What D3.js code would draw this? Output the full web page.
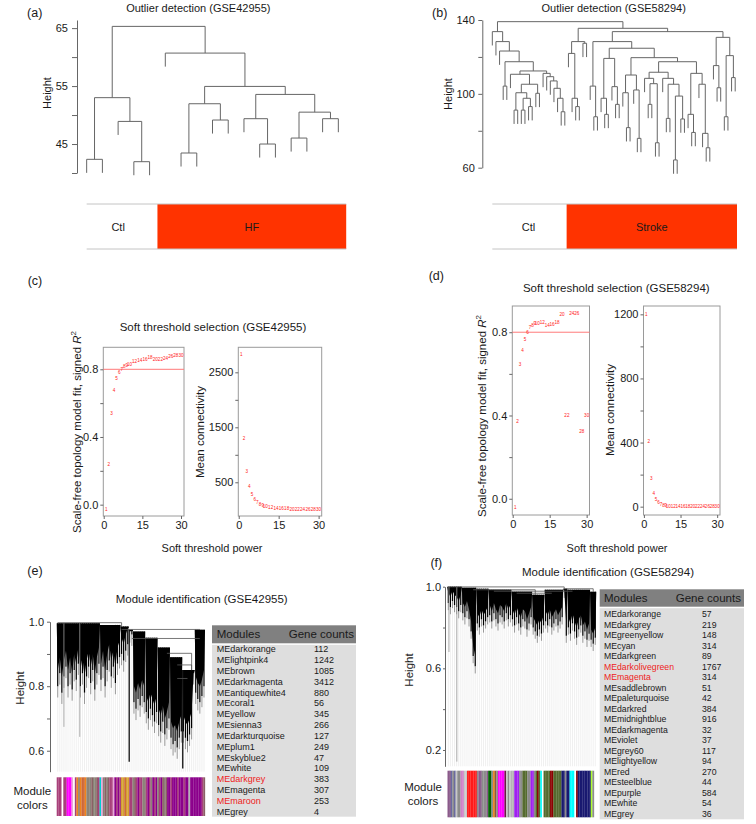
<!DOCTYPE html>
<html>
<head>
<meta charset="utf-8">
<script src="https://cdn.jsdelivr.net/npm/d3@7"></script>
<style>
  body { margin: 0; background: #fff; }
  svg { display: block; }
  .axis path, .axis line { stroke: #666; }
  .axis text { fill: #1a1a1a; font-size: 11px; font-family: "Liberation Sans", Arial, sans-serif; }
</style>
</head>
<body>
<div id="container"></div>
<script>
/* CONSTANTS AND GLOBALS */
const width = 756, height = 824;
const font = '"Liberation Sans", Arial, Helvetica, sans-serif';
const ink = "#1a1a1a";

/* DATA */
// (a) sample tree GSE42955: [merge height, left, right], 0 = one sample
const treeA = [65.3,
  [53.0, [42.36, 0, 0], [48.9, 0, [41.95, 0, 0]]],
  [60.69, 0, [54.94,
    [51.95, [43.45, 0, 0], [49.14, 0, 0]],
    [53.56, [49.37, 0, [45.0, 0, 0]], [50.5, [46.03, 0, 0], [49.37, 0, 0]]]]]];
const traitA = [["Ctl", 5], ["HF", 12]];
const ticksA = [40, 45, 50, 55, 60, 65];
const labelsA = [45, 55, 65];

// (b) sample tree GSE58294
const ctlB = [133.7, 0, [128.3, 0, [123.2, 0, [117.4, [104.2, 0, 0], [112.4,
  [110.6, 0, [105.2, [100.6, [91.2, 0, 0], [97.6, [91.2, 0, 0], [93.1, 0, 0]]], [100.3, 0, 0]]],
  [111.1, 0, [109.3, 0, [107.0, 0, [103.0, 0, [97.6, 0, [90.3, 0, 0]]]]]]]]]]];
const strokeB1 = [128.3, [121.9, 0, [97.6, 0, [93.1, 0, 0]]], [127.4, 0, 0]];
const strokeB2 = [128.3, [104.2, 0, [87.6, 0, 0]], [124.7,
  [119.2, [97.6, 0, [88.9, 0, 0]], [103.9, 0, [94.3, 0, 0]]],
  [119.6,
    [110.2, [100.6, 0, [81.7, 0, 0]], [102.1, 0, [75.9, 0, 0]]],
    [117.4,
      [111.7, [108.4, 0, [105.5, [94.3, 0, 0], [73.5, 0, 0]]],
              [108.4, 0, [105.2, [86.7, 0, 0], [98.8, [64.2, 0, 0], [86.4, 0, 0]]]]],
      [111.1, [88.9, 0, [79.1, 0, 0]], [105.2, 0, [78.6, 0, [70.8, 0, 0]]]]]]]];
const strokeB3 = [130.6, [115.3, 0, [103.3, 0, 0]], [120.7, [87.6, 0, 0], [108.8, 0, 0]]];
const treeB = [139.1, ctlB, [135.5, strokeB1, [133.7, strokeB2, strokeB3]]];
const traitB = [["Ctl", 21], ["Stroke", 47]];
const ticksB = [60, 80, 100, 120, 140];
const labelsB = [60, 100, 140];

// (c), (d) soft threshold
const powers = [1, 2, 3, 4, 5, 6, 7, 8, 9, 10, 12, 14, 16, 18, 20, 22, 24, 26, 28, 30];
const fitC = [-0.03, 0.236, 0.54, 0.676, 0.747, 0.784, 0.80, 0.815, 0.825, 0.831, 0.845, 0.853, 0.859, 0.871, 0.859, 0.857, 0.866, 0.874, 0.88, 0.884];
const connC = [2830, 1290, 700, 430, 280, 190, 136, 100, 76, 60, 40, 28, 20, 16, 12, 10, 8, 7, 6, 5];
const fitD = [-0.041, 0.372, 0.646, 0.712, 0.766, 0.801, 0.821, 0.830, 0.840, 0.840, 0.848, 0.830, 0.838, 0.849, 0.883, 0.398, 0.888, 0.888, 0.322, 0.398];
const connD = [1200, 406, 173, 84, 46, 25, 14, 8, 5, 3.5, 2, 1.2, 0.8, 0.5, 0.4, 0.3, 0.2, 0.15, 0.1, 0.1];
const cutR2 = 0.8;
const xTicksSoft = [0, 15, 30];
const fitTicks = [0, 0.2, 0.4, 0.6, 0.8], fitLabels = [0, 0.4, 0.8];
const connTicksC = [500, 1000, 1500, 2000, 2500], connLabelsC = [500, 1500, 2500];
const connTicksD = [0, 200, 400, 600, 800, 1000, 1200], connLabelsD = [0, 400, 800, 1200];

// (e), (f) gene trees, read as columns: [first col, last col, top height], lower edges
const clustersE = [[0, 20, 0.995], [21, 30, 0.99], [31, 34, 0.985], [35, 36, 0.975], [37, 42, 0.97],
  [43, 48, 0.95], [49, 54, 0.92], [55, 60, 0.89], [61, 66, 0.85], [67, 71, 0.975]];
const bottomsE = [0.80, 0.84, 0.78, 0.83, 0.86, 0.80, 0.84, 0.79, 0.85, 0.82, 0.87, 0.80, 0.84, 0.78, 0.83, 0.86,
  0.81, 0.85, 0.79, 0.84, 0.87, 0.82, 0.86, 0.80, 0.85, 0.88, 0.83, 0.86, 0.81, 0.87, 0.89,
  0.90, 0.88, 0.91, 0.93, 0.97, 0.96,
  0.75, 0.73, 0.76, 0.74, 0.77, 0.75, 0.72, 0.70, 0.73, 0.71, 0.69, 0.72,
  0.68, 0.66, 0.69, 0.65, 0.67, 0.70, 0.64, 0.62, 0.63, 0.61, 0.64, 0.66,
  0.66, 0.64, 0.63, 0.65, 0.67, 0.84, 0.78, 0.76, 0.75, 0.77, 0.80];
const mergesE = [[0, 31, 0.997], [31, 69, 0.976], [36, 69, 0.948], [53, 65, 0.902], [58, 65, 0.866], [58, 63, 0.824]];
const spikesE = [[35.2, 0.566], [61.2, 0.545]];
const threadsE = [[3.5, 0.674], [11.2, 0.643]];
const colorsE = "mmmwmmPPPpwmoaoccoaaalaalmtpalalmmpDmDmyycyymmalmDmmaamDmaDmDamDlalDDmDDDmDDDmDDgDDDDDDDml";

const clustersF = [[0, 6, 1.0], [7, 13, 0.995], [14, 19, 0.99], [20, 30, 0.985], [31, 40, 0.975],
  [41, 46, 0.96], [47, 55, 0.985], [56, 57, 0.99], [58, 68, 0.985], [69, 71, 0.975]];
const bottomsF = [0.92, 0.90, 0.93, 0.91, 0.90, 0.88, 0.91, 0.87, 0.85, 0.88, 0.84, 0.78, 0.66, 0.61,
  0.82, 0.80, 0.84, 0.81, 0.83, 0.85,
  0.86, 0.83, 0.87, 0.84, 0.82, 0.86, 0.85, 0.83, 0.87, 0.84, 0.86,
  0.84, 0.81, 0.85, 0.82, 0.80, 0.84, 0.83, 0.79, 0.82, 0.85,
  0.80, 0.78, 0.76, 0.79, 0.77, 0.81,
  0.83, 0.81, 0.84, 0.80, 0.82, 0.84, 0.81, 0.83, 0.85,
  0.98, 0.76,
  0.80, 0.77, 0.82, 0.78, 0.75, 0.79, 0.81, 0.76, 0.78, 0.74, 0.77,
  0.74, 0.72, 0.75];
const mergesF = [[0, 56, 0.999], [56, 70, 0.99], [12, 42, 0.985], [22, 60, 0.978], [33, 50, 0.968]];
const spikesF = [];
const threadsF = [[4.6, 0.143], [0.8, 0.68]];
const colorsF = "uuvhvLhhVVLLrrrrrrhuuhhhuGGhobhPPPPdLhLggUUUhhOOOhhUUhOROCwOOOORROOOOONNhNNCCCwRNNNNNNNNYh";

const moduleColorKey = {
  m: "#a8407a", D: "#8b008b", P: "#ff00ff", p: "#e8a8d8", w: "#ffffff", o: "#f0841c",
  a: "#8b8378", l: "#8b5f65", c: "#cd6839", t: "#00ced1", y: "#d4a030", g: "#b4b4b4",
  u: "#8a5a8a", v: "#6a6aa0", h: "#8c8c8c", L: "#c8c8c8", V: "#d080c8", r: "#ff1a1a",
  G: "#006400", b: "#8b5a3c", d: "#6a1a40", U: "#a020f0", O: "#556b2f", R: "#8b0000",
  C: "#00ffff", N: "#191970", Y: "#adff2f"
};

const modulesE = ["MEdarkorange", "MElightpink4", "MEbrown", "MEdarkmagenta", "MEantiquewhite4", "MEcoral1",
  "MEyellow", "MEsienna3", "MEdarkturquoise", "MEplum1", "MEskyblue2", "MEwhite", "MEdarkgrey",
  "MEmagenta", "MEmaroon", "MEgrey"];
const countsE = [112, 1242, 1085, 3412, 880, 56, 345, 266, 127, 249, 47, 109, 383, 307, 253, 4];
const hubE = ["MEdarkgrey", "MEmaroon"];

const modulesF = ["MEdarkorange", "MEdarkgrey", "MEgreenyellow", "MEcyan", "MEdarkgreen", "MEdarkolivegreen",
  "MEmagenta", "MEsaddlebrown", "MEpaleturquoise", "MEdarkred", "MEmidnightblue", "MEdarkmagenta",
  "MEviolet", "MEgrey60", "MElightyellow", "MEred", "MEsteelblue", "MEpurple", "MEwhite", "MEgrey"];
const countsF = [57, 219, 148, 314, 89, 1767, 314, 51, 42, 384, 916, 32, 37, 117, 94, 270, 44, 584, 54, 36];
const hubF = ["MEdarkolivegreen", "MEmagenta"];

/* HTML ELEMENTS */
const svg = d3.select("#container")
  .append("svg")
  .attr("width", width)
  .attr("height", height)
  .style("font-family", font);

function addText(x, y, str, size, anchor = "middle", rotate = false, fill = ink) {
  const t = svg.append("text")
    .attr("font-size", size)
    .attr("fill", fill)
    .attr("text-anchor", anchor)
    .attr("dominant-baseline", "central");
  if (rotate) t.attr("transform", `translate(${x},${y}) rotate(-90)`);
  else t.attr("x", x).attr("y", y);
  t.text(str);
  return t;
}

function r2Label(x, y) {
  const t = svg.append("text")
    .attr("font-size", 11.5).attr("fill", ink)
    .attr("text-anchor", "middle").attr("dominant-baseline", "central")
    .attr("transform", `translate(${x},${y}) rotate(-90)`);
  t.append("tspan").text("Scale-free topology model fit, signed ");
  t.append("tspan").attr("font-style", "italic").text("R");
  t.append("tspan").attr("font-size", 8).attr("dy", -4).text("2");
}

/* SAMPLE DENDROGRAMS */
function sampleTree(tree, x, y, axisX, ticks, labels, tickSize, pad) {
  const heights = [];
  (function collect(n) { if (n !== 0) { heights.push(n[0]); collect(n[1]); collect(n[2]); } })(tree);
  const hang = 0.1 * (d3.max(heights) - d3.min(heights));
  const segs = [];
  let count = 0;
  function walk(n) {
    if (n === 0) { count += 1; return { x: count, leaf: true }; }
    const a = walk(n[1]), b = walk(n[2]);
    segs.push([a.x, n[0], b.x, n[0]]);
    [a, b].forEach(c => segs.push([c.x, n[0], c.x, c.leaf ? n[0] - hang : c.h]));
    return { x: (a.x + b.x) / 2, h: n[0] };
  }
  walk(tree);

  svg.append("g").selectAll("line")
    .data(segs)
    .join("line")
    .attr("x1", d => x(d[0])).attr("x2", d => x(d[2]))
    .attr("y1", d => y(d[1])).attr("y2", d => y(d[3]))
    .attr("stroke", "#666").attr("stroke-width", 1);

  svg.append("g")
    .attr("class", "axis")
    .attr("transform", `translate(${axisX},0)`)
    .call(d3.axisLeft(y).tickValues(ticks).tickSize(tickSize).tickSizeOuter(0).tickPadding(pad)
      .tickFormat(d => labels.includes(d) ? d : ""));
}

function traitBar(trait, x, y0, y1) {
  const g = svg.append("g");
  const n = d3.sum(trait, d => d[1]);
  let start = 0;
  const parts = trait.map(([name, k]) => { const p = { name, a: start, b: start + k }; start += k; return p; });
  g.selectAll("rect")
    .data(parts)
    .join("rect")
    .attr("x", d => x(d.a + 0.5)).attr("width", d => x(d.b + 0.5) - x(d.a + 0.5))
    .attr("y", y0).attr("height", y1 - y0)
    .attr("fill", (d, i) => i === 0 ? "#ffffff" : "#ff3300");
  [y0, y1].forEach(yy => g.append("line")
    .attr("x1", x(1)).attr("x2", x(n + 0.5)).attr("y1", yy).attr("y2", yy)
    .attr("stroke", "#c4c4c4").attr("stroke-width", 1));
  parts.forEach(p => addText((x(p.a + 0.5) + x(p.b + 0.5)) / 2, (y0 + y1) / 2, p.name, 11));
}

// (a)
const xA = d3.scaleLinear().domain([0.5, 17.5]).range([78.8, 346.2]);
const yA = d3.scaleLinear().domain([40, 66.4]).range([173, 20]);
sampleTree(treeA, xA, yA, 77, ticksA, labelsA, 5, 4);
traitBar(traitA, xA, 204, 249);
addText(34.7, 12.7, "(a)", 12.5);
addText(198.3, 7.5, "Outlier detection (GSE42955)", 11);
addText(47, 93, "Height", 11, "middle", true);

// (b)
const xB = d3.scaleLinear().domain([0.5, 68.5]).range([490.5, 737]);
const yB = d3.scaleLinear().domain([60, 140]).range([167.7, 20]);
sampleTree(treeB, xB, yB, 482.3, ticksB, labelsB, 4, 3.5);
traitBar(traitB, xB, 204, 249);
addText(439.7, 12.7, "(b)", 12.5);
addText(613.7, 7.5, "Outlier detection (GSE58294)", 11);
addText(448, 94, "Height", 11, "middle", true);

/* SOFT THRESHOLD PANELS */
function softPlot(box, yDom, yTicks, yLabels, fmt, values, cut) {
  const [x0, x1, y0, y1] = box;
  const x = d3.scaleLinear().domain([-0.16, 31.16]).range([x0, x1]);
  const y = d3.scaleLinear().domain(yDom).range([y1, y0]);
  const g = svg.append("g");
  g.append("rect")
    .attr("x", x0).attr("y", y0).attr("width", x1 - x0).attr("height", y1 - y0)
    .attr("fill", "none").attr("stroke", "#9a9a9a");
  if (cut !== null) {
    g.append("line")
      .attr("x1", x0).attr("x2", x1).attr("y1", y(cut)).attr("y2", y(cut))
      .attr("stroke", "#ff7a7a").attr("stroke-width", 1);
  }
  g.append("g").attr("class", "axis")
    .attr("transform", `translate(${x0},0)`)
    .call(d3.axisLeft(y).tickValues(yTicks).tickSize(3).tickPadding(2)
      .tickFormat(d => yLabels.includes(d) ? fmt(d) : ""))
    .call(s => s.select(".domain").remove());
  g.append("g").attr("class", "axis")
    .attr("transform", `translate(0,${y1})`)
    .call(d3.axisBottom(x).tickValues(xTicksSoft).tickSize(3).tickPadding(2))
    .call(s => s.select(".domain").remove());
  g.selectAll("text.pt")
    .data(powers)
    .join("text")
    .attr("class", "pt")
    .attr("x", p => x(p))
    .attr("y", (p, i) => y(values[i]))
    .attr("font-size", 4.6)
    .attr("fill", "#ff2020")
    .attr("text-anchor", "middle")
    .attr("dominant-baseline", "central")
    .text(p => p);
}

const f1 = d3.format(".1f"), f0 = d3.format("d");

// (c)
softPlot([103.3, 184, 347.3, 516], [-0.067, 0.93], fitTicks, fitLabels, f1, fitC, cutR2);
softPlot([238.3, 321.7, 347.3, 516], [-113, 2955], connTicksC, connLabelsC, f0, connC, null);
addText(35, 280.7, "(c)", 12.5);
addText(213, 326.7, "Soft threshold selection (GSE42955)", 11.5);
r2Label(77, 432);
addText(200, 432, "Mean connectivity", 11.5, "middle", true);
addText(212, 548, "Soft threshold power", 11);

// (d)
softPlot([512.3, 589.5, 306, 515], [-0.078, 0.926], fitTicks, fitLabels, f1, fitD, cutR2);
softPlot([643.5, 720, 306, 515], [-52, 1252], connTicksD, connLabelsD, f0, connD, null);
addText(436.3, 276, "(d)", 12.5);
addText(616.3, 287.7, "Soft threshold selection (GSE58294)", 11.5);
r2Label(481.7, 416);
addText(610, 410, "Mean connectivity", 11.5, "middle", true);
addText(617, 548, "Soft threshold power", 11);

/* GENE DENDROGRAMS */
function geneTree(cfg) {
  const { x0, x1, y, clusters, bottoms, merges, spikes, threads, base } = cfg;
  const x = d3.scaleLinear().domain([0, bottoms.length]).range([x0, x1]);
  const tops = [];
  clusters.forEach(([a, b, t]) => { for (let i = a; i <= b; i++) tops[i] = t; });
  const cols = bottoms.map((b, i) => ({ i, top: tops[i], bottom: b }));
  const g = svg.append("g");

  // hanging leaves, thin and pale
  g.selectAll("line.hang")
    .data(cols)
    .join("line")
    .attr("class", "hang")
    .attr("x1", d => x(d.i + 0.5)).attr("x2", d => x(d.i + 0.5))
    .attr("y1", d => y(d.bottom)).attr("y2", y(base))
    .attr("stroke", "#e0e0e0").attr("stroke-width", 0.5);

  // grey tail below each column
  g.selectAll("line.tail")
    .data(cols)
    .join("line")
    .attr("class", "tail")
    .attr("x1", d => x(d.i + 0.5)).attr("x2", d => x(d.i + 0.5))
    .attr("y1", d => y(d.bottom)).attr("y2", d => y(Math.max(base, d.bottom - 0.035)))
    .attr("stroke", "#8e8e8e").attr("stroke-width", 0.9);

  // solid core of each cluster, a little above the lower edge
  const shapes = clusters.map(([a, b, t]) => {
    const pts = cols.slice(a, b + 1).map(d => ({ xi: d.i + 0.5, top: t, bottom: Math.min(t - 0.004, d.bottom + 0.05) }));
    return [{ xi: a, top: t, bottom: t - 0.004 }, ...pts, { xi: b + 1, top: t, bottom: t - 0.004 }];
  });
  const core = d3.area().x(d => x(d.xi)).y0(d => y(d.top)).y1(d => y(d.bottom));
  g.selectAll("path.core")
    .data(shapes)
    .join("path")
    .attr("class", "core")
    .attr("d", core)
    .attr("fill", "#000");

  // black hair of each column down to its lower edge
  g.selectAll("line.hair")
    .data(cols)
    .join("line")
    .attr("class", "hair")
    .attr("x1", d => x(d.i + 0.5)).attr("x2", d => x(d.i + 0.5))
    .attr("y1", d => y(d.top)).attr("y2", d => y(d.bottom))
    .attr("stroke", "#000").attr("stroke-width", 1.25);

  g.selectAll("line.thread")
    .data(threads)
    .join("line")
    .attr("class", "thread")
    .attr("x1", d => x(d[0])).attr("x2", d => x(d[0]))
    .attr("y1", d => y(tops[Math.floor(d[0])])).attr("y2", d => y(d[1]))
    .attr("stroke", "#9a9a9a").attr("stroke-width", 0.8);

  g.selectAll("line.spike")
    .data(spikes)
    .join("line")
    .attr("class", "spike")
    .attr("x1", d => x(d[0])).attr("x2", d => x(d[0]))
    .attr("y1", d => y(tops[Math.floor(d[0])])).attr("y2", d => y(d[1]))
    .attr("stroke", "#111").attr("stroke-width", 1.3);

  merges.forEach(([a, b, h]) => {
    g.append("line")
      .attr("x1", x(a + 0.5)).attr("x2", x(b + 0.5)).attr("y1", y(h)).attr("y2", y(h))
      .attr("stroke", "#555").attr("stroke-width", 0.8);
    [a, b].forEach(c => {
      if (tops[c] < h) g.append("line")
        .attr("x1", x(c + 0.5)).attr("x2", x(c + 0.5)).attr("y1", y(h)).attr("y2", y(tops[c]))
        .attr("stroke", "#555").attr("stroke-width", 0.8);
    });
  });
}

function colorBar(codes, x0, x1, y0, y1) {
  const slots = codes.split("");
  const x = d3.scaleLinear().domain([0, slots.length]).range([x0, x1]);
  svg.append("g").selectAll("rect")
    .data(slots)
    .join("rect")
    .attr("x", (d, i) => x(i)).attr("width", x(1) - x(0) + 0.15)
    .attr("y", y0).attr("height", y1 - y0)
    .attr("fill", d => moduleColorKey[d]);
}

function moduleTable(cfg) {
  const { x0, x1, hy0, hy1, by0, by1, nameX, countX, headX, rowTop, rowBottom, size, names, counts, hubs } = cfg;
  svg.append("rect").attr("x", x0).attr("y", hy0).attr("width", x1 - x0).attr("height", hy1 - hy0).attr("fill", "#808080");
  svg.append("rect").attr("x", x0).attr("y", by0).attr("width", x1 - x0).attr("height", by1 - by0).attr("fill", "#dedede");
  addText(nameX, (hy0 + hy1) / 2, "Modules", 11.5, "start");
  addText(headX, (hy0 + hy1) / 2, "Gene counts", 11.5, "start");
  const row = d3.scalePoint().domain(names).range([rowTop, rowBottom]);
  const g = svg.append("g").attr("font-size", size);
  g.selectAll("text.name")
    .data(names)
    .join("text")
    .attr("class", "name")
    .attr("x", nameX).attr("y", d => row(d))
    .attr("dominant-baseline", "central")
    .attr("fill", d => hubs.includes(d) ? "#ee1c1c" : ink)
    .text(d => d);
  g.selectAll("text.count")
    .data(counts)
    .join("text")
    .attr("class", "count")
    .attr("x", countX).attr("y", (d, i) => row(names[i]))
    .attr("dominant-baseline", "central")
    .attr("fill", ink)
    .text(d => d);
}

// (e)
const yE = d3.scaleLinear().domain([0.535, 1.0]).range([771.7, 621.7]);
geneTree({ x0: 56.7, x1: 205, y: yE, clusters: clustersE, bottoms: bottomsE, merges: mergesE,
  spikes: spikesE, threads: threadsE, base: 0.535 });
svg.append("g").attr("class", "axis")
  .attr("transform", "translate(50,0)")
  .call(d3.axisLeft(yE).tickValues([0.6, 0.7, 0.8, 0.9, 1.0]).tickSize(3).tickSizeOuter(0).tickPadding(3)
    .tickFormat(d => [0.6, 0.8, 1.0].includes(d) ? f1(d) : ""));
colorBar(colorsE, 56.7, 205, 777.3, 816);
addText(35, 571, "(e)", 12.5);
addText(201.7, 599.3, "Module identification (GSE42955)", 11.5);
addText(20, 688, "Height", 11.5, "middle", true);
addText(32.3, 790.7, "Module", 11.5);
addText(32.3, 805, "colors", 11.5);
moduleTable({ x0: 212, x1: 356, hy0: 625.3, hy1: 643.3, by0: 644.8, by1: 816.7, nameX: 216.7, countX: 314,
  headX: 288.7, rowTop: 649.3, rowBottom: 811.7, size: 9, names: modulesE, counts: countsE, hubs: hubE });

// (f)
const yF = d3.scaleLinear().domain([0.12, 1.0]).range([766.3, 586.7]);
geneTree({ x0: 447.3, x1: 596.3, y: yF, clusters: clustersF, bottoms: bottomsF, merges: mergesF,
  spikes: spikesF, threads: threadsF, base: 0.12 });
svg.append("g").attr("class", "axis")
  .attr("transform", "translate(445,0)")
  .call(d3.axisLeft(yF).tickValues([0.2, 0.4, 0.6, 0.8, 1.0]).tickSize(2).tickSizeOuter(0).tickPadding(2)
    .tickFormat(d => [0.2, 0.6, 1.0].includes(d) ? f1(d) : ""));
colorBar(colorsF, 447.5, 594, 770.7, 817.3);
addText(436.3, 563, "(f)", 12.5);
addText(608, 571.7, "Module identification (GSE58294)", 11.5);
addText(409, 670, "Height", 11.5, "middle", true);
addText(423, 787.3, "Module", 11.5);
addText(423, 800.7, "colors", 11.5);
moduleTable({ x0: 599.7, x1: 744, hy0: 589.3, hy1: 606.7, by0: 608.2, by1: 819.3, nameX: 604, countX: 702,
  headX: 675.7, rowTop: 614, rowBottom: 814, size: 8.7, names: modulesF, counts: countsF, hubs: hubF });
</script>
</body>
</html>
